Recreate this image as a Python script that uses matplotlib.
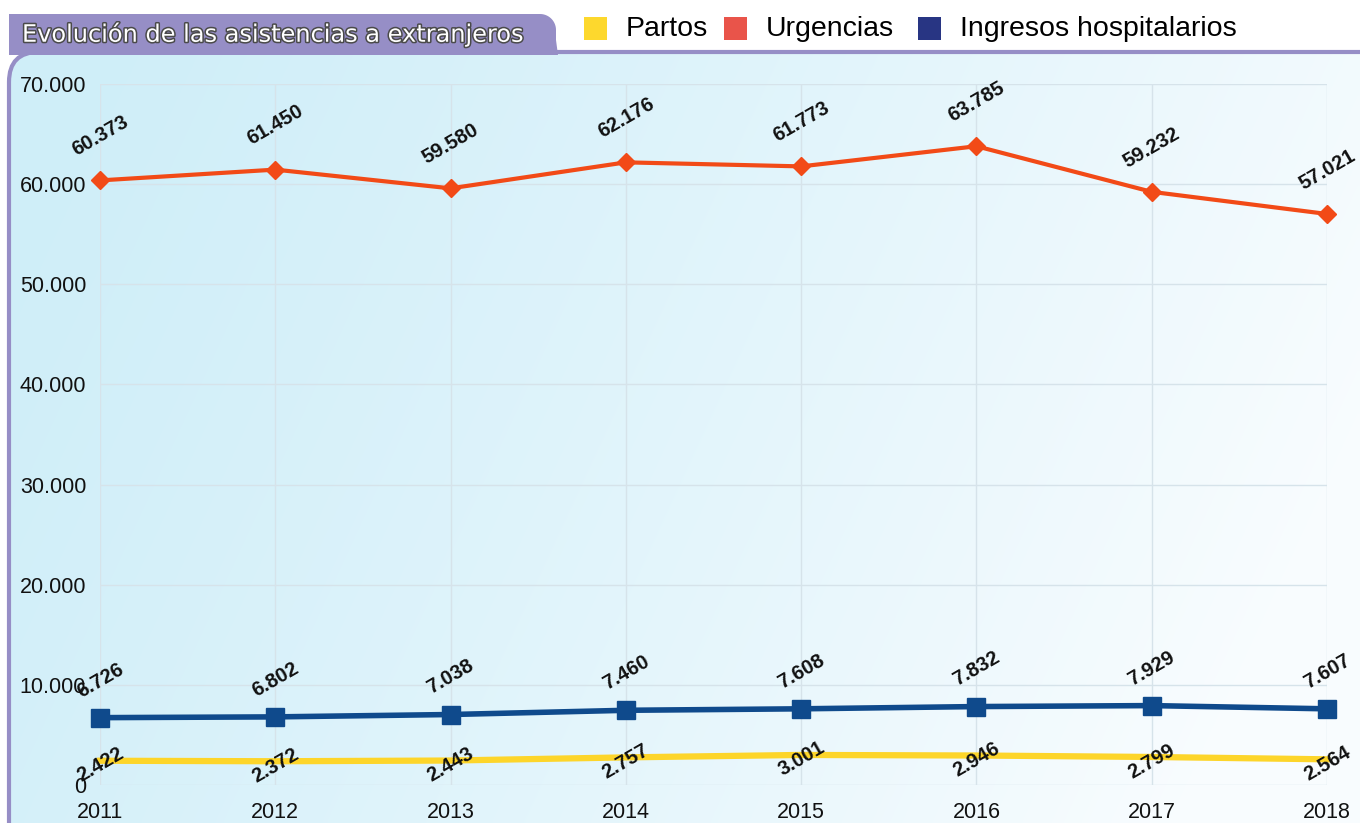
import numpy as np
import matplotlib
matplotlib.use("Agg")
import matplotlib.pyplot as plt
from matplotlib.patches import FancyBboxPatch, Rectangle, Polygon
from matplotlib.ticker import FuncFormatter
import matplotlib.patheffects as pe

years = [2011, 2012, 2013, 2014, 2015, 2016, 2017, 2018]
urgencias = [60373, 61450, 59580, 62176, 61773, 63785, 59232, 57021]
ingresos = [6726, 6802, 7038, 7460, 7608, 7832, 7929, 7607]
partos = [2422, 2372, 2443, 2757, 3001, 2946, 2799, 2564]
legend_labels = ["Partos", "Urgencias", "Ingresos hospitalarios"]
title = "Evolución de las asistencias a extranjeros"

c_partos = "#fdd52a"
c_urg = "#f24a17"
c_ing = "#0f4a8c"
leg_colors = ["#fdd82d", "#e9544a", "#283583"]
purple = "#968ec6"

W, H = 1360, 823
fig = plt.figure(figsize=(W / 100, H / 100), dpi=100)
fig.patch.set_facecolor("white")

# background / decoration axes in pixel coords
bg = fig.add_axes([0, 0, 1, 1], zorder=0)
bg.axis("off")

gx = np.linspace(0, 1, 300)
gy = np.linspace(0, 1, 200)
GX, GY = np.meshgrid(gx, gy)
t = np.clip(0.95 * GX + 0.25 * GY - 0.08, 0, 1) ** 1.2
c0 = np.array([0.815, 0.935, 0.975])
c1 = np.array([0.975, 0.99, 0.998])
img = c0[None, None, :] * (1 - t[..., None]) + c1[None, None, :] * t[..., None]
im = bg.imshow(img, extent=[9, W, H, 52], aspect="auto", zorder=1, interpolation="bilinear")
clip = FancyBboxPatch((9, 52), W + 40, H, boxstyle="round,pad=0,rounding_size=30",
                      facecolor="none", edgecolor="none", transform=bg.transData)
bg.add_patch(clip)
im.set_clip_path(clip)
panel = FancyBboxPatch((9, 52), W + 40, H, boxstyle="round,pad=0,rounding_size=30",
                       facecolor="none", edgecolor=purple, lw=3, zorder=3)
bg.add_patch(panel)

# title tab (top-right corner rounded)
r = 16
cx, cy = 540, 14 + r
ang = np.linspace(np.pi / 2, 0, 20)
arc = [[cx + r * np.cos(a), cy - r * np.sin(a)] for a in ang]
pts = [[9, 55], [9, 14]] + arc + [[556, 40], [558, 55]]
bg.add_patch(Polygon(pts, closed=True, facecolor=purple, edgecolor="none", zorder=4))
bg.text(22, 34, title, color="white", fontsize=17.3, family="DejaVu Sans", va="center",
        ha="left", zorder=5,
        path_effects=[pe.withStroke(linewidth=2.2, foreground="#4a4a4a")])

bg.set_xlim(0, W)
bg.set_ylim(H, 0)

# legend
lx = [584, 724, 918]
for x, lab, col in zip(lx, legend_labels, leg_colors):
    bg.add_patch(Rectangle((x, 17), 23, 23, facecolor=col, edgecolor="none", zorder=5))
    bg.text(x + 42, 29, lab, fontsize=20.5, family="Liberation Sans", va="center",
            ha="left", color="black", zorder=5)

# main axes
x0, x1 = 100, 1327
y0, y1 = 785, 84
ax = fig.add_axes([x0 / W, 1 - y0 / H, (x1 - x0) / W, (y0 - y1) / H], zorder=2)
ax.patch.set_alpha(0)
ax.set_xlim(2011, 2018)
ax.set_ylim(0, 70000)
ax.set_yticks(np.arange(0, 70001, 10000))
ax.set_xticks(years)
ax.yaxis.set_major_formatter(FuncFormatter(lambda v, p: f"{int(v):,}".replace(",", ".")))
for s in ax.spines.values():
    s.set_visible(False)
ax.grid(True, color="#d6e3ea", lw=1)
ax.tick_params(length=0, labelsize=15.5)
ax.tick_params(axis="y", pad=10)
ax.tick_params(axis="x", pad=12)
for lab in ax.get_xticklabels() + ax.get_yticklabels():
    lab.set_family("Liberation Sans")
    lab.set_color("#111111")

ax.plot(years, partos, color=c_partos, lw=4.5, clip_on=False, zorder=3)
ax.plot(years, ingresos, color=c_ing, lw=4, marker="s", ms=13, clip_on=False, zorder=4)
ax.plot(years, urgencias, color=c_urg, lw=3, marker="D", ms=9, clip_on=False, zorder=5)

def fmt(v):
    return f"{v:,}".replace(",", ".")

lab_kw = dict(textcoords="offset points", ha="center", va="center", rotation=30,
              fontsize=14.5, fontweight="bold", family="Liberation Sans", zorder=6,
              annotation_clip=False, color="#111111")
for x, v in zip(years, urgencias):
    ax.annotate(fmt(v), (x, v), xytext=(0, 32), **lab_kw)
for x, v in zip(years, ingresos):
    ax.annotate(fmt(v), (x, v), xytext=(0, 27), **lab_kw)
for x, v in zip(years, partos):
    ax.annotate(fmt(v), (x, v), xytext=(0, -3), **lab_kw)

fig.savefig("out.png", dpi=100)
